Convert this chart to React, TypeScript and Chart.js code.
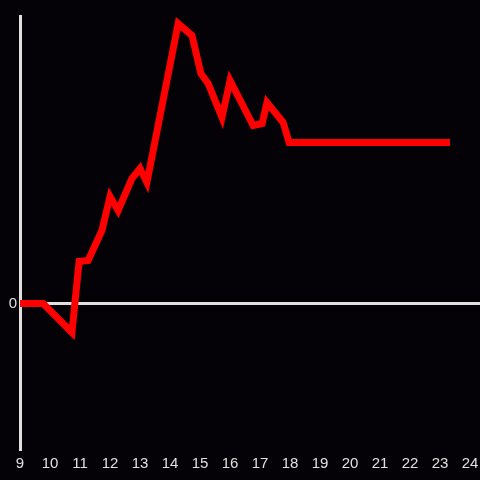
import React, { useEffect, useRef } from "react";
import { Chart, registerables } from "chart.js";

Chart.register(...registerables);

const times = [9.0, 9.77, 10.73, 10.97, 11.27, 11.73, 12.0, 12.27, 12.73, 13.0, 13.23, 14.27, 14.73, 15.03, 15.27, 15.73, 16.0, 16.77, 17.07, 17.23, 17.77, 17.97, 23.33];
const values = [0, 0, -2.9, 4.2, 4.3, 7.3, 10.7, 9.3, 12.5, 13.5, 12.1, 28.0, 26.8, 23.0, 22.0, 18.6, 22.3, 17.8, 18.0, 20.1, 18.1, 16.1, 16.1];
const xTicks = [9, 10, 11, 12, 13, 14, 15, 16, 17, 18, 19, 20, 21, 22, 23, 24];
const yTicks = [0];

const BG = "#040206";
const AXIS = "#e0e0e0";

export default function App() {
  const ref = useRef<HTMLCanvasElement | null>(null);
  useEffect(() => {
    document.body.style.margin = "0";
    document.body.style.background = BG;
    const canvas = ref.current!;
    const chart = new Chart(canvas, {
      type: "line",
      data: {
        datasets: [
          {
            data: times.map((t, i) => ({ x: t, y: values[i] })),
            borderColor: "#ff0000",
            borderWidth: 7,
            pointRadius: 0,
            tension: 0,
            fill: false,
          },
        ],
      },
      options: {
        animation: false,
        responsive: false,
        maintainAspectRatio: false,
        layout: { padding: { top: 16, right: 0, left: 0, bottom: 0 } },
        plugins: { legend: { display: false }, tooltip: { enabled: false } },
        scales: {
          x: {
            type: "linear",
            min: 9,
            max: 24.33,
            afterBuildTicks: (s: any) => {
              s.ticks = xTicks.map((v) => ({ value: v }));
            },
            afterFit: (s: any) => {
              s.height = 31;
              s.paddingLeft = 0;
              s.paddingRight = 0;
            },
            grid: { display: false, drawTicks: false },
            border: { display: false },
            ticks: {
              color: AXIS,
              padding: 6,
              maxRotation: 0,
              autoSkip: false,
              font: { family: "Liberation Sans", size: 15 },
            },
          },
          y: {
            type: "linear",
            min: -14.55,
            max: 28.75,
            afterBuildTicks: (s: any) => {
              s.ticks = yTicks.map((v) => ({ value: v }));
            },
            afterFit: (s: any) => {
              s.width = 20;
              s.paddingTop = 0;
              s.paddingBottom = 0;
            },
            grid: {
              drawTicks: false,
              color: (c: any) => (c.tick && c.tick.value === 0 ? AXIS : "transparent"),
              lineWidth: 3,
            },
            border: { display: true, color: AXIS, width: 3 },
            ticks: {
              color: AXIS,
              padding: 3,
              font: { family: "Liberation Sans", size: 15 },
            },
          },
        },
      },
    });
    return () => chart.destroy();
  }, []);
  return (
    <div style={{ position: "absolute", left: 0, top: 0, width: 480, height: 480, background: BG }}>
      <canvas ref={ref} width={480} height={480} style={{ display: "block", width: 480, height: 480 }} />
    </div>
  );
}
